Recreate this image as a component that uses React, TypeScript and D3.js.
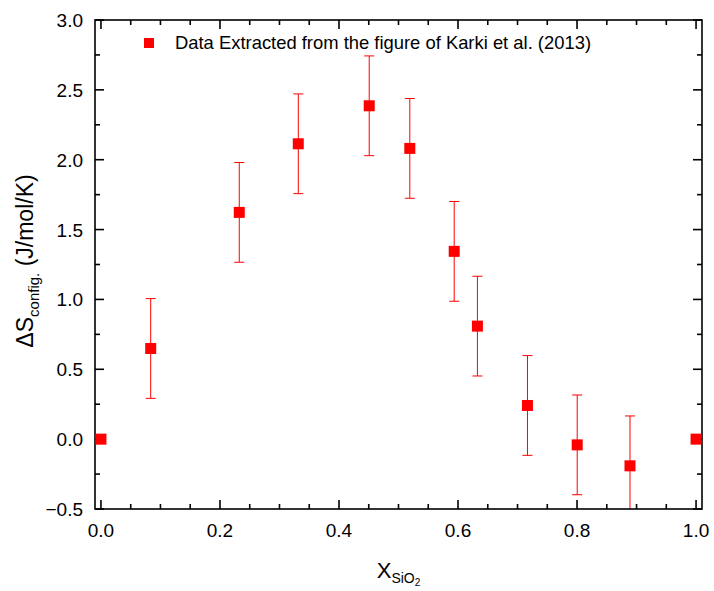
import React from "react";
import * as d3 from "d3";

const xValues = [0, 0.0836, 0.2324, 0.3316, 0.4508, 0.519, 0.5936, 0.6326, 0.7167, 0.8003, 0.889, 1.0];
const yValues = [0, 0.649, 1.623, 2.114, 2.386, 2.081, 1.344, 0.809, 0.241, -0.041, -0.191, 0];
const yErrors: (number | null)[] = [null, 0.357, 0.357, 0.357, 0.357, 0.357, 0.357, 0.357, 0.357, 0.357, 0.357, null];
const xTicks = [0, 0.2, 0.4, 0.6, 0.8, 1.0];
const yTicks = [-0.5, 0, 0.5, 1.0, 1.5, 2.0, 2.5, 3.0];
const legendLabel = "Data Extracted from the figure of Karki et al. (2013)";

const W = 714, H = 591;
const L = 95, R = 702, T = 20, B = 509;
const font = "'Liberation Sans', Arial, sans-serif";

export default function App() {
  const x = d3.scaleLinear().domain([-0.01, 1.01]).range([L, R]);
  const y = d3.scaleLinear().domain([-0.5, 3.0]).range([B, T]);
  const xMinor = d3.range(0, 1.0001, 0.05).filter((v) => !xTicks.some((t) => Math.abs(t - v) < 1e-6));
  const yMinor = d3.range(-0.5, 3.0001, 0.25).filter((v) => !yTicks.some((t) => Math.abs(t - v) < 1e-6));
  const red = "#ff0000";
  const ms = 11;
  const cap = 10;
  const data = xValues.map((xv, i) => ({ x: xv, y: yValues[i], e: yErrors[i] }));

  return (
    <svg width={W} height={H} style={{ position: "absolute", left: 0, top: 0, background: "#fff" }} fontFamily={font}>
      <defs>
        <clipPath id="plotclip">
          <rect x={L} y={T} width={R - L} height={B - T} />
        </clipPath>
      </defs>
      <g clipPath="url(#plotclip)">
        {data.map((d, i) =>
          d.e == null ? null : (
            <g key={"e" + i} stroke={red} strokeWidth={1}>
              <line x1={x(d.x)} x2={x(d.x)} y1={y(d.y + d.e)} y2={y(d.y - d.e)} />
              <line x1={x(d.x) - cap / 2} x2={x(d.x) + cap / 2} y1={y(d.y + d.e)} y2={y(d.y + d.e)} />
              <line x1={x(d.x) - cap / 2} x2={x(d.x) + cap / 2} y1={y(d.y - d.e)} y2={y(d.y - d.e)} />
            </g>
          )
        )}
      </g>
      {/* frame */}
      <rect x={L} y={T} width={R - L} height={B - T} fill="none" stroke="#000" strokeWidth={1.6} />
      {/* ticks */}
      <g stroke="#000" strokeWidth={1.6}>
        {xTicks.map((t) => (
          <g key={"xt" + t}>
            <line x1={x(t)} x2={x(t)} y1={B} y2={B - 9} />
            <line x1={x(t)} x2={x(t)} y1={T} y2={T + 9} />
          </g>
        ))}
        {xMinor.map((t) => (
          <g key={"xm" + t}>
            <line x1={x(t)} x2={x(t)} y1={B} y2={B - 5} />
            <line x1={x(t)} x2={x(t)} y1={T} y2={T + 5} />
          </g>
        ))}
        {yTicks.map((t) => (
          <g key={"yt" + t}>
            <line x1={L} x2={L + 9} y1={y(t)} y2={y(t)} />
            <line x1={R} x2={R - 9} y1={y(t)} y2={y(t)} />
          </g>
        ))}
        {yMinor.map((t) => (
          <g key={"ym" + t}>
            <line x1={L} x2={L + 5} y1={y(t)} y2={y(t)} />
            <line x1={R} x2={R - 5} y1={y(t)} y2={y(t)} />
          </g>
        ))}
      </g>
      {data.map((d, i) => (
        <rect key={"m" + i} x={x(d.x) - ms / 2} y={y(d.y) - ms / 2} width={ms} height={ms} fill={red} />
      ))}
      {xTicks.map((t) => (
        <text key={"xl" + t} x={x(t)} y={B + 28} fontSize={19} textAnchor="middle" fill="#000">
          {d3.format(".1f")(t)}
        </text>
      ))}
      {yTicks.map((t) => (
        <text key={"yl" + t} x={L - 12} y={y(t) + 7} fontSize={19} textAnchor="end" fill="#000">
          {d3.format(".1f")(t)}
        </text>
      ))}
      {/* legend */}
      <rect x={149 - 5} y={43 - 5} width={10} height={10} fill={red} />
      <text x={175} y={49} fontSize={18.4} fill="#000">{legendLabel}</text>
      {/* x label */}
      <text x={(L + R) / 2} y={578} fontSize={22} textAnchor="middle" fill="#000">
        X
        <tspan fontSize={14} dy={5}>SiO</tspan>
        <tspan fontSize={10} dy={3}>2</tspan>
      </text>
      {/* y label */}
      <text transform={`translate(33, 261) rotate(-90)`} fontSize={23} textAnchor="middle" fill="#000">
        ΔS
        <tspan fontSize={15} dy={6}>config.</tspan>
        <tspan dy={-6}> (J/mol/K)</tspan>
      </text>
    </svg>
  );
}
